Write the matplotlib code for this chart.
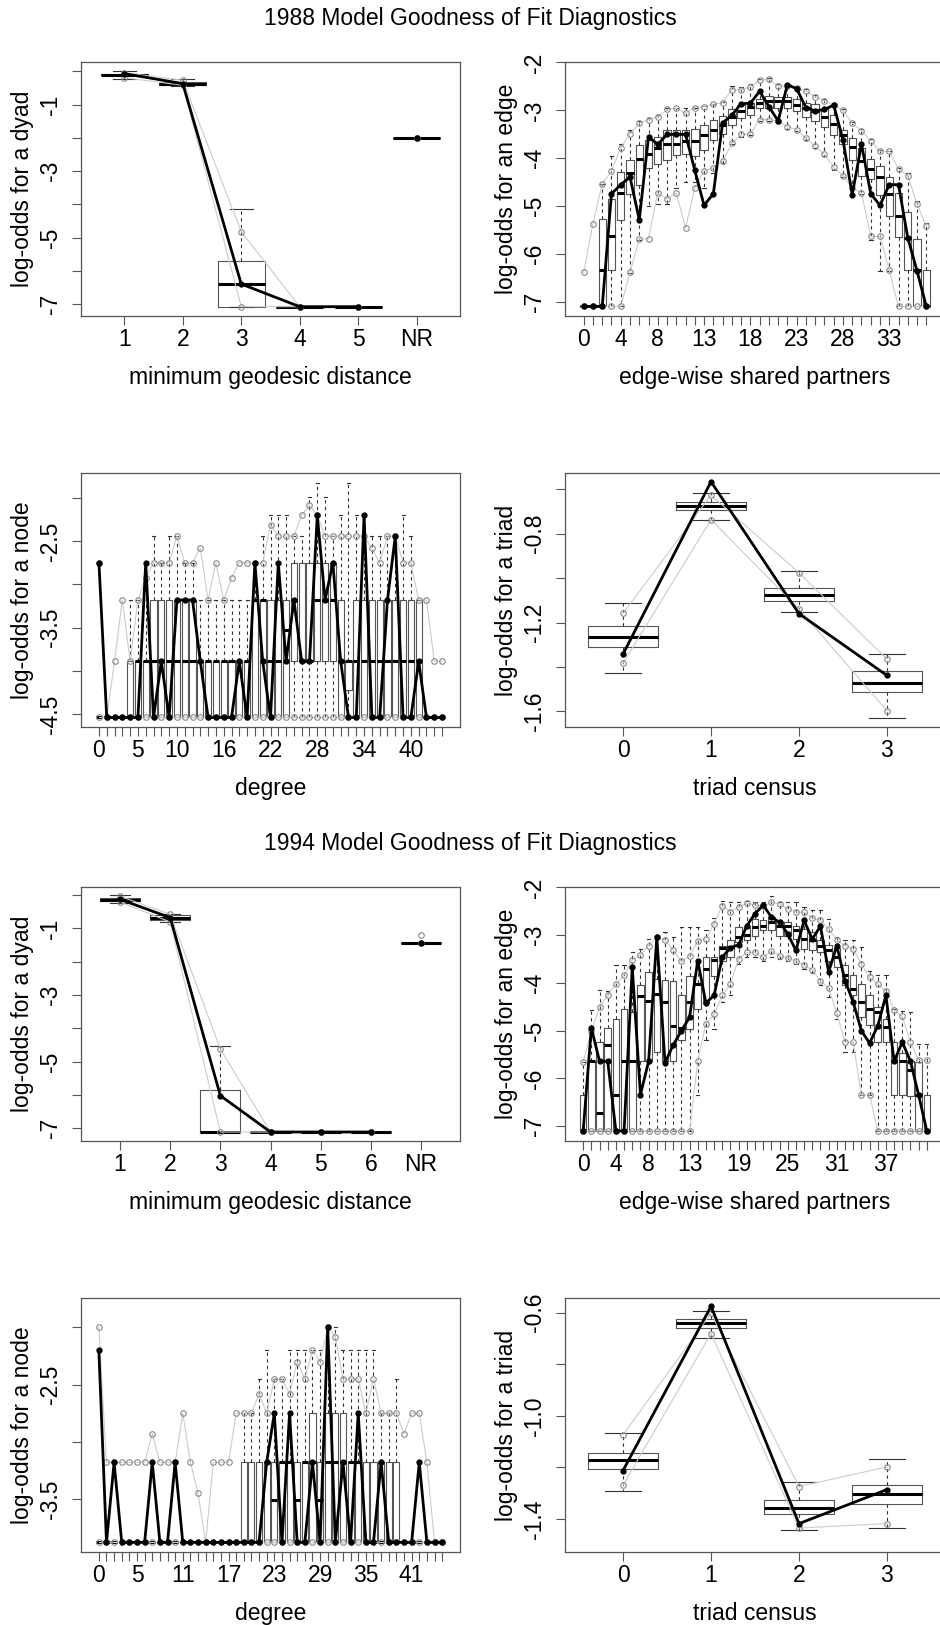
import numpy as np
import matplotlib
matplotlib.use("Agg")
import matplotlib.pyplot as plt

plt.rcParams['font.family'] = ['Liberation Sans', 'DejaVu Sans']

# ---------------- 1988 ----------------
# minimum geodesic distance (1..5, NR)
geo88_cats = ['1', '2', '3', '4', '5', 'NR']
geo88_q1 = [-0.12, -0.42, -7.07, -7.07, -7.07, -2.0]
geo88_med = [-0.10, -0.37, -6.39, -7.07, -7.07, -2.0]
geo88_q3 = [-0.07, -0.32, -5.69, -7.07, -7.07, -2.0]
geo88_wlo = [-0.22, -0.45, -7.07, -7.07, -7.07, -2.0]
geo88_whi = [0.0, -0.24, -4.14, -7.07, -7.07, -2.0]
geo88_hi = [-0.04, -0.27, -4.82, -7.07, -7.07, -2.0]
geo88_lo = [-0.19, -0.42, -7.07, -7.07, -7.07, -2.0]
geo88_obs = [-0.07, -0.37, -6.39, -7.07, -7.07, -2.0]

# edge-wise shared partners 0..37
esp88_obs = [-7.09, -7.09, -7.09, -4.74, -4.55, -4.39, -5.28, -3.55, -3.71, -3.50,
             -3.50, -3.50, -4.25, -4.98, -4.74, -3.26, -3.10, -2.86, -2.85, -2.60,
             -2.92, -3.22, -2.46, -2.55, -2.94, -3.01, -2.98, -2.89, -3.61, -4.76,
             -3.70, -4.74, -4.98, -4.55, -4.55, -5.66, -6.35, -7.09]
esp88_q1 = [-7.09, -7.09, -7.09, -6.34, -5.28, -4.74, -4.56, -4.21, -4.12, -4.04,
            -3.93, -3.92, -3.96, -3.82, -3.62, -3.50, -3.30, -3.15, -3.10, -2.94,
            -2.94, -2.94, -2.96, -3.01, -3.13, -3.22, -3.34, -3.52, -3.71, -4.03,
            -4.36, -4.44, -4.76, -5.21, -5.64, -6.34, -7.09, -7.09]
esp88_med = [-7.09, -7.09, -6.34, -5.63, -4.72, -4.30, -4.01, -3.92, -3.78, -3.71,
             -3.70, -3.64, -3.64, -3.52, -3.41, -3.31, -3.14, -3.01, -2.93, -2.84,
             -2.80, -2.80, -2.81, -2.89, -2.96, -3.01, -3.13, -3.29, -3.52, -3.76,
             -4.06, -4.23, -4.39, -4.74, -5.21, -5.66, -6.34, -7.09]
esp88_q3 = [-7.09, -7.09, -5.27, -4.84, -4.28, -4.04, -3.73, -3.61, -3.56, -3.41,
            -3.41, -3.41, -3.38, -3.31, -3.20, -3.12, -2.98, -2.89, -2.85, -2.77,
            -2.70, -2.73, -2.73, -2.77, -2.85, -2.86, -2.98, -3.10, -3.41, -3.57,
            -3.78, -4.01, -4.16, -4.39, -4.72, -5.11, -5.68, -6.34]
esp88_hi = [-6.38, -5.36, -4.53, -4.26, -3.78, -3.49, -3.27, -3.19, -3.13, -2.98,
            -2.96, -3.06, -2.94, -2.92, -2.87, -2.84, -2.57, -2.57, -2.51, -2.37,
            -2.35, -2.49, -2.49, -2.53, -2.60, -2.71, -2.80, -2.89, -3.00, -3.27,
            -3.42, -3.64, -3.85, -3.85, -4.23, -4.36, -4.95, -5.42]
esp88_lo = [-7.09, -7.09, -7.09, -7.09, -7.09, -6.38, -5.68, -5.68, -4.72, -4.85,
            -4.72, -5.45, -4.62, -4.26, -4.20, -4.06, -3.69, -3.50, -3.49, -3.19,
            -3.19, -3.22, -3.34, -3.40, -3.58, -3.75, -3.92, -4.19, -4.36, -4.62,
            -4.72, -5.63, -5.63, -6.34, -7.09, -7.09, -7.09, -7.09]
esp88_whi = [-7.09, -7.09, -4.53, -3.96, -3.70, -3.40, -3.22, -3.15, -3.10, -2.96,
             -2.94, -2.95, -2.94, -2.90, -2.86, -2.82, -2.50, -2.52, -2.45, -2.35,
             -2.33, -2.45, -2.46, -2.50, -2.56, -2.68, -2.77, -2.85, -2.97, -3.24,
             -3.38, -3.60, -3.82, -3.85, -4.20, -4.30, -4.90, -5.35]
esp88_wlo = [-7.09, -7.09, -7.09, -7.09, -7.09, -6.40, -5.70, -5.00, -4.95, -4.95,
             -4.62, -4.50, -4.50, -4.62, -4.30, -4.10, -3.70, -3.55, -3.52, -3.22,
             -3.22, -3.25, -3.38, -3.42, -3.62, -3.78, -3.95, -4.25, -4.40, -4.65,
             -4.75, -5.70, -6.35, -6.35, -7.09, -7.09, -7.09, -7.09]
esp88_shown = [0, 4, 8, 13, 18, 23, 28, 33]

# degree 0..44
deg88_obs = [-2.75, -4.54, -4.54, -4.54, -4.54, -4.54, -2.75, -4.54, -3.89, -4.54,
             -3.18, -3.18, -3.18, -3.89, -4.54, -4.54, -4.54, -4.54, -3.89, -4.54,
             -2.75, -3.89, -4.54, -2.75, -3.89, -3.18, -3.89, -3.89, -2.20, -3.18,
             -2.75, -3.89, -4.54, -4.54, -2.20, -4.54, -4.54, -3.18, -2.44, -4.54,
             -4.54, -3.89, -4.54, -4.54, -4.54]
deg88_hi = [-2.75, -4.54, -3.89, -3.18, -3.89, -3.18, -2.92, -2.75, -2.75, -2.75,
            -2.44, -2.75, -2.75, -2.58, -3.18, -2.75, -3.18, -2.92, -2.75, -2.75,
            -2.75, -2.75, -2.31, -2.44, -2.44, -2.44, -2.20, -2.08, -2.20, -2.44,
            -2.44, -2.44, -2.44, -2.44, -2.44, -2.58, -2.75, -2.44, -2.44, -2.75,
            -2.75, -3.18, -3.18, -3.89, -3.89]
deg88_lo = [-4.54, -4.54, -4.54, -4.54, -4.54, -4.54, -4.54, -4.54, -4.54, -4.54,
            -4.54, -4.54, -4.54, -4.54, -4.54, -4.54, -4.54, -4.54, -4.54, -4.54,
            -4.54, -4.54, -4.54, -4.54, -4.54, -4.54, -4.54, -4.54, -4.54, -4.54,
            -4.54, -4.54, -4.54, -4.54, -4.54, -4.54, -4.54, -4.54, -4.54, -4.54,
            -4.54, -4.54, -4.54, -4.54, -4.54]
deg88_q1 = [-4.54, -4.54, -4.54, -4.54, -4.54, -4.54, -4.54, -4.54, -4.54, -4.54,
            -4.54, -4.54, -4.54, -4.54, -4.54, -4.54, -4.54, -4.54, -4.54, -4.54,
            -4.54, -4.54, -4.54, -4.54, -4.54, -3.89, -3.89, -3.89, -3.89, -3.89,
            -3.89, -4.54, -4.22, -4.54, -4.54, -4.54, -4.54, -4.54, -4.54, -4.54,
            -4.54, -4.54, -4.54, -4.54, -4.54]
deg88_med = [-4.54, -4.54, -4.54, -4.54, -4.54, -3.89, -3.89, -3.89, -3.89, -3.89,
             -3.89, -3.89, -3.89, -3.89, -3.89, -3.89, -3.89, -3.89, -3.89, -3.89,
             -3.18, -3.18, -3.89, -3.89, -3.53, -3.18, -3.89, -3.89, -3.18, -3.18,
             -3.18, -3.89, -3.89, -3.89, -3.89, -3.89, -3.89, -3.89, -3.89, -3.89,
             -3.89, -3.89, -4.54, -4.54, -4.54]
deg88_q3 = [-4.54, -4.54, -4.54, -4.54, -3.89, -3.89, -3.89, -3.18, -3.18, -3.18,
            -3.18, -3.18, -3.18, -3.89, -3.89, -3.89, -3.89, -3.89, -3.89, -3.89,
            -3.18, -3.18, -3.18, -3.18, -3.18, -2.75, -2.75, -2.75, -2.75, -2.75,
            -2.75, -3.18, -3.89, -3.18, -3.18, -3.18, -3.18, -3.18, -3.18, -3.18,
            -3.18, -3.18, -4.54, -4.54, -4.54]
deg88_whi = [-4.54, -4.54, -4.54, -4.54, -3.18, -3.18, -2.75, -2.44, -2.75, -2.44,
             -2.44, -2.75, -2.75, -3.18, -3.18, -3.18, -3.18, -3.18, -3.18, -3.18,
             -2.75, -2.44, -2.20, -2.20, -2.20, -2.44, -2.44, -1.99, -1.82, -1.99,
             -2.44, -2.20, -1.82, -2.20, -2.20, -2.44, -2.44, -2.44, -2.44, -2.20,
             -2.44, -3.18, -4.54, -4.54, -4.54]
deg88_wlo = deg88_lo
deg88_shown = [0, 5, 10, 16, 22, 28, 34, 40]

# triad census 0..3
tri88_q1 = [-1.312, -0.693, -1.102, -1.512]
tri88_med = [-1.264, -0.675, -1.076, -1.473]
tri88_q3 = [-1.214, -0.657, -1.045, -1.419]
tri88_wlo = [-1.429, -0.740, -1.154, -1.630]
tri88_whi = [-1.114, -0.617, -0.968, -1.342]
tri88_hi = [-1.159, -0.627, -0.976, -1.365]
tri88_lo = [-1.383, -0.737, -1.139, -1.597]
tri88_obs = [-1.342, -0.566, -1.160, -1.438]

# ---------------- 1994 ----------------
geo94_cats = ['1', '2', '3', '4', '5', '6', 'NR']
geo94_q1 = [-0.19, -0.74, -7.11, -7.11, -7.11, -7.11, -1.43]
geo94_med = [-0.14, -0.68, -7.11, -7.11, -7.11, -7.11, -1.43]
geo94_q3 = [-0.09, -0.61, -5.86, -7.11, -7.11, -7.11, -1.43]
geo94_wlo = [-0.24, -0.81, -7.11, -7.11, -7.11, -7.11, -1.43]
geo94_whi = [-0.01, -0.56, -4.53, -7.11, -7.11, -7.11, -1.43]
geo94_hi = [-0.04, -0.58, -4.62, -7.11, -7.11, -7.11, -1.21]
geo94_lo = [-0.21, -0.81, -7.11, -7.11, -7.11, -7.11, -1.43]
geo94_obs = [-0.13, -0.68, -6.02, -7.11, -7.11, -7.11, -1.43]

esp94_obs = [-7.10, -4.94, -5.64, -5.64, -7.10, -7.10, -3.67, -6.34, -5.64, -3.04,
             -5.67, -5.30, -5.00, -4.72, -3.53, -4.42, -4.26, -3.46, -3.26, -3.20,
             -2.80, -2.55, -2.37, -2.62, -2.73, -2.97, -3.32, -2.69, -3.08, -2.81,
             -3.77, -3.22, -3.95, -4.40, -5.00, -5.26, -4.90, -4.26, -5.64, -5.24,
             -5.64, -6.35, -7.10]
esp94_q1 = [-7.10, -7.10, -7.10, -7.10, -7.10, -7.10, -7.10, -5.64, -5.64, -5.45,
            -5.64, -5.64, -5.20, -4.96, -4.54, -4.42, -3.86, -3.53, -3.46, -3.15,
            -3.11, -3.01, -2.90, -2.90, -3.01, -3.01, -3.08, -3.29, -3.32, -3.36,
            -3.53, -3.67, -4.05, -4.26, -4.71, -4.89, -5.24, -5.24, -6.34, -6.34,
            -6.37, -7.10, -7.10]
esp94_med = [-7.10, -5.64, -6.72, -5.29, -6.35, -5.64, -5.64, -4.28, -4.37, -4.23,
             -4.40, -4.90, -4.95, -4.40, -4.02, -3.70, -3.51, -3.26, -3.24, -3.03,
             -2.99, -2.83, -2.80, -2.73, -2.80, -2.81, -2.90, -3.08, -3.11, -3.22,
             -3.32, -3.46, -3.84, -4.12, -4.40, -4.55, -4.61, -4.92, -5.64, -5.64,
             -5.83, -6.34, -7.10]
esp94_q3 = [-6.35, -5.64, -5.24, -4.94, -4.75, -4.55, -4.60, -4.04, -3.76, -3.91,
            -3.93, -3.95, -4.26, -3.86, -4.00, -3.45, -3.46, -3.22, -3.10, -2.83,
            -2.83, -2.66, -2.68, -2.61, -2.73, -2.73, -2.80, -2.87, -2.94, -3.11,
            -3.20, -3.26, -3.63, -3.84, -4.02, -4.26, -4.51, -4.75, -5.24, -5.47,
            -5.64, -5.66, -6.35]
esp94_hi = [-5.66, -5.00, -4.51, -4.25, -4.02, -3.83, -3.52, -3.41, -3.22, -3.04,
            -3.10, -3.31, -3.55, -3.43, -3.12, -3.08, -2.76, -2.38, -2.51, -2.41,
            -2.33, -2.37, -2.39, -2.31, -2.34, -2.45, -2.51, -2.52, -2.64, -2.69,
            -2.87, -3.10, -3.22, -3.29, -3.60, -3.88, -4.02, -4.17, -4.57, -4.70,
            -5.24, -5.62, -5.62]
esp94_lo = [-7.10, -7.10, -7.10, -7.10, -7.10, -7.10, -7.10, -7.10, -7.10, -7.10,
            -7.10, -7.10, -7.10, -7.10, -5.64, -4.85, -4.66, -4.26, -4.02, -3.49,
            -3.36, -3.36, -3.46, -3.33, -3.43, -3.48, -3.53, -3.63, -3.72, -3.96,
            -4.11, -4.63, -5.24, -5.24, -6.35, -6.34, -7.10, -7.10, -7.10, -7.10,
            -7.10, -7.10, -7.10]
esp94_whi = [-5.66, -4.56, -4.14, -4.16, -3.63, -3.63, -3.36, -3.29, -3.08, -3.04,
             -2.94, -3.04, -2.83, -2.83, -2.83, -2.90, -2.64, -2.28, -2.30, -2.30,
             -2.28, -2.30, -2.31, -2.17, -2.30, -2.30, -2.31, -2.41, -2.48, -2.48,
             -2.66, -3.03, -3.11, -3.11, -3.25, -3.74, -3.84, -3.84, -4.54, -4.59,
             -4.61, -5.27, -5.27]
esp94_wlo = [-7.10, -7.10, -7.10, -7.10, -7.10, -7.10, -7.10, -7.10, -7.10, -7.10,
             -7.10, -7.10, -7.10, -7.10, -6.35, -5.20, -4.96, -4.40, -4.25, -3.60,
             -3.45, -3.45, -3.55, -3.45, -3.50, -3.55, -3.60, -3.70, -3.80, -4.05,
             -4.30, -4.75, -5.45, -5.45, -6.35, -6.35, -7.10, -7.10, -7.10, -7.10,
             -7.10, -7.10, -7.10]
esp94_shown = [0, 4, 8, 13, 19, 25, 31, 37]

deg94_obs = [-2.20, -3.88, -3.18, -3.88, -3.88, -3.88, -3.88, -3.18, -3.88, -3.88,
             -3.18, -3.88, -3.88, -3.88, -3.88, -3.88, -3.88, -3.88, -3.88, -3.88,
             -3.88, -3.88, -3.18, -2.75, -3.88, -2.75, -3.88, -3.88, -3.18, -3.88,
             -2.00, -3.88, -3.18, -3.88, -2.75, -3.88, -3.88, -3.18, -3.88, -3.88,
             -3.88, -3.88, -3.18, -3.88, -3.88, -3.88]
deg94_hi = [-2.00, -3.18, -3.18, -3.18, -3.18, -3.18, -3.18, -2.93, -3.18, -3.18,
            -3.18, -2.75, -3.18, -3.45, -3.88, -3.18, -3.18, -3.18, -2.75, -2.75,
            -2.75, -2.58, -2.75, -2.45, -2.45, -2.58, -2.30, -2.45, -2.20, -2.30,
            -2.00, -2.08, -2.45, -2.45, -2.45, -2.75, -2.45, -2.75, -2.75, -2.75,
            -2.93, -2.75, -2.75, -3.18, -3.88, -3.88]
deg94_lo = [-3.88, -3.88, -3.88, -3.88, -3.88, -3.88, -3.88, -3.88, -3.88, -3.88,
            -3.88, -3.88, -3.88, -3.88, -3.88, -3.88, -3.88, -3.88, -3.88, -3.88,
            -3.88, -3.88, -3.88, -3.88, -3.88, -3.88, -3.88, -3.88, -3.88, -3.88,
            -3.88, -3.88, -3.88, -3.88, -3.88, -3.88, -3.88, -3.88, -3.88, -3.88,
            -3.88, -3.88, -3.88, -3.88, -3.88, -3.88]
deg94_q1 = deg94_lo
deg94_wlo = deg94_lo
deg94_med = [-3.88, -3.88, -3.88, -3.88, -3.88, -3.88, -3.88, -3.88, -3.88, -3.88,
             -3.88, -3.88, -3.88, -3.88, -3.88, -3.88, -3.88, -3.88, -3.88, -3.88,
             -3.88, -3.88, -3.18, -3.51, -3.18, -3.18, -3.51, -3.18, -3.18, -3.51,
             -3.18, -3.18, -3.18, -3.18, -3.18, -3.88, -3.88, -3.88, -3.88, -3.88,
             -3.88, -3.88, -3.88, -3.88, -3.88, -3.88]
deg94_q3 = [-3.88, -3.88, -3.88, -3.88, -3.88, -3.88, -3.88, -3.88, -3.88, -3.88,
            -3.88, -3.88, -3.88, -3.88, -3.88, -3.88, -3.88, -3.88, -3.88, -3.18,
            -3.18, -3.18, -3.18, -3.18, -3.18, -3.18, -3.18, -3.18, -2.75, -3.18,
            -2.75, -2.75, -2.75, -3.18, -3.18, -3.18, -3.18, -3.18, -3.18, -3.18,
            -3.88, -3.88, -3.88, -3.88, -3.88, -3.88]
deg94_whi = [-3.88, -3.88, -3.88, -3.88, -3.88, -3.88, -3.88, -3.88, -3.88, -3.88,
             -3.88, -3.88, -3.88, -3.88, -3.88, -3.88, -3.88, -3.88, -3.88, -2.75,
             -2.75, -2.45, -2.20, -2.45, -2.45, -2.20, -2.20, -2.20, -2.20, -2.20,
             -2.00, -2.00, -2.20, -2.20, -2.20, -2.20, -2.20, -2.75, -2.75, -2.45,
             -3.88, -3.88, -3.88, -3.88, -3.88, -3.88]
deg94_shown = [0, 5, 11, 17, 23, 29, 35, 41]

tri94_q1 = [-1.205, -0.658, -1.379, -1.342]
tri94_med = [-1.170, -0.640, -1.356, -1.304]
tri94_q3 = [-1.144, -0.623, -1.326, -1.268]
tri94_wlo = [-1.290, -0.697, -1.444, -1.435]
tri94_whi = [-1.066, -0.594, -1.255, -1.167]
tri94_hi = [-1.073, -0.603, -1.274, -1.198]
tri94_lo = [-1.269, -0.681, -1.435, -1.418]
tri94_obs = [-1.212, -0.575, -1.418, -1.286]

FRAME = '#555555'
FS = 16.5


def gof(ax, x, q1, med, q3, wlo, whi, lo, hi, obs, nr=False):
    stats = [dict(q1=a, med=b, q3=c, whislo=d, whishi=e)
             for a, b, c, d, e in zip(q1, med, q3, wlo, whi)]
    ax.bxp(stats, positions=x, widths=0.8, showfliers=False, capwidths=0.4,
           manage_ticks=False,
           boxprops=dict(color=FRAME, lw=0.8),
           medianprops=dict(color='black', lw=2.2),
           whiskerprops=dict(color='#333333', lw=0.8, linestyle=(0, (3, 3))),
           capprops=dict(color='#333333', lw=0.8))
    x = np.asarray(x)
    n = len(x) - 1 if nr else len(x)
    for band in (lo, hi):
        band = np.asarray(band)
        ax.plot(x[:n], band[:n], color='#cccccc', lw=0.8, zorder=3)
        ax.plot(x, band, 'o', ms=4, mfc='none', mec='#8a8a8a', mew=0.8, zorder=3)
    obs = np.asarray(obs)
    ax.plot(x[:n], obs[:n], color='black', lw=2, marker='o', ms=3.5, zorder=4)
    if nr:
        ax.plot(x[n:], obs[n:], 'o', color='black', ms=3.5, zorder=4)


def style(ax, xticks, xlabels, yticks, ylabels, xlabel, ylabel):
    n = len(xticks)
    ax.set_xlim(xticks[0] - 0.5 - 0.04 * n, xticks[-1] + 0.5 + 0.04 * n)
    ax.set_xticks(xticks)
    ax.set_xticklabels(xlabels)
    ax.set_yticks(yticks)
    ax.set_yticklabels(ylabels, rotation=90, va='center')
    ax.tick_params(direction='out', length=6.5, width=0.8, color=FRAME, labelsize=FS)
    ax.tick_params(axis='x', pad=2)
    ax.tick_params(axis='y', pad=7)
    for s in ax.spines.values():
        s.set_color(FRAME)
        s.set_linewidth(0.9)
    ax.set_xlabel(xlabel, fontsize=FS, labelpad=11)
    ax.set_ylabel(ylabel, fontsize=FS, labelpad=4)


def thin(n, shown):
    return [str(k) if k in shown else '' for k in range(n)]


fig = plt.figure(figsize=(9.4, 16.25), dpi=100)
L, WL = 81 / 940, 379 / 940
R, WR = 565 / 940, 380 / 940
H = 254 / 1625
rows = [1 - 316 / 1625, 1 - 727 / 1625, 1 - 1141 / 1625, 1 - 1552 / 1625]

fig.text(0.5, 1 - 19 / 1625, '1988 Model Goodness of Fit Diagnostics', ha='center', va='center', fontsize=FS)
fig.text(0.5, 1 - 844 / 1625, '1994 Model Goodness of Fit Diagnostics', ha='center', va='center', fontsize=FS)

# 1988 geodesic
ax = fig.add_axes([L, rows[0], WL, H])
x = np.arange(1, len(geo88_cats) + 1)
gof(ax, x, geo88_q1, geo88_med, geo88_q3, geo88_wlo, geo88_whi, geo88_lo, geo88_hi, geo88_obs, nr=True)
style(ax, x, geo88_cats, [0, -1, -2, -3, -4, -5, -6, -7], ['', '-1', '', '-3', '', '-5', '', '-7'],
      'minimum geodesic distance', 'log-odds for a dyad')
ax.set_ylim(-7.35, 0.28)

# 1988 esp
ax = fig.add_axes([R, rows[0], WR, H])
x = np.arange(len(esp88_obs))
gof(ax, x, esp88_q1, esp88_med, esp88_q3, esp88_wlo, esp88_whi, esp88_lo, esp88_hi, esp88_obs)
style(ax, x, thin(len(x), esp88_shown), [-2, -3, -4, -5, -6, -7], ['-2', '-3', '-4', '-5', '-6', '-7'],
      'edge-wise shared partners', 'log-odds for an edge')
ax.set_ylim(-7.29, -1.99)

# 1988 degree
ax = fig.add_axes([L, rows[1], WL, H])
x = np.arange(len(deg88_obs))
gof(ax, x, deg88_q1, deg88_med, deg88_q3, deg88_wlo, deg88_whi, deg88_lo, deg88_hi, deg88_obs)
style(ax, x, thin(len(x), deg88_shown), [-2.0, -2.5, -3.0, -3.5, -4.0, -4.5],
      ['', '-2.5', '', '-3.5', '', '-4.5'], 'degree', 'log-odds for a node')
ax.set_ylim(-4.65, -1.71)

# 1988 triad
ax = fig.add_axes([R, rows[1], WR, H])
x = np.arange(len(tri88_obs))
gof(ax, x, tri88_q1, tri88_med, tri88_q3, tri88_wlo, tri88_whi, tri88_lo, tri88_hi, tri88_obs)
style(ax, x, [str(k) for k in x], [-0.6, -0.8, -1.0, -1.2, -1.4, -1.6],
      ['', '-0.8', '', '-1.2', '', '-1.6'], 'triad census', 'log-odds for a triad')
ax.set_ylim(-1.67, -0.527)

# 1994 geodesic
ax = fig.add_axes([L, rows[2], WL, H])
x = np.arange(1, len(geo94_cats) + 1)
gof(ax, x, geo94_q1, geo94_med, geo94_q3, geo94_wlo, geo94_whi, geo94_lo, geo94_hi, geo94_obs, nr=True)
style(ax, x, geo94_cats, [0, -1, -2, -3, -4, -5, -6, -7], ['', '-1', '', '-3', '', '-5', '', '-7'],
      'minimum geodesic distance', 'log-odds for a dyad')
ax.set_ylim(-7.38, 0.24)

# 1994 esp
ax = fig.add_axes([R, rows[2], WR, H])
x = np.arange(len(esp94_obs))
gof(ax, x, esp94_q1, esp94_med, esp94_q3, esp94_wlo, esp94_whi, esp94_lo, esp94_hi, esp94_obs)
style(ax, x, thin(len(x), esp94_shown), [-2, -3, -4, -5, -6, -7], ['-2', '-3', '-4', '-5', '-6', '-7'],
      'edge-wise shared partners', 'log-odds for an edge')
ax.set_ylim(-7.31, -1.99)

# 1994 degree
ax = fig.add_axes([L, rows[3], WL, H])
x = np.arange(len(deg94_obs))
gof(ax, x, deg94_q1, deg94_med, deg94_q3, deg94_wlo, deg94_whi, deg94_lo, deg94_hi, deg94_obs)
style(ax, x, thin(len(x), deg94_shown), [-2.0, -2.5, -3.0, -3.5],
      ['', '-2.5', '', '-3.5'], 'degree', 'log-odds for a node')
ax.set_ylim(-3.964, -1.742)

# 1994 triad
ax = fig.add_axes([R, rows[3], WR, H])
x = np.arange(len(tri94_obs))
gof(ax, x, tri94_q1, tri94_med, tri94_q3, tri94_wlo, tri94_whi, tri94_lo, tri94_hi, tri94_obs)
style(ax, x, [str(k) for k in x], [-0.6, -0.8, -1.0, -1.2, -1.4],
      ['-0.6', '', '-1.0', '', '-1.4'], 'triad census', 'log-odds for a triad')
ax.set_ylim(-1.528, -0.543)

fig.savefig('out.png', dpi=100)
